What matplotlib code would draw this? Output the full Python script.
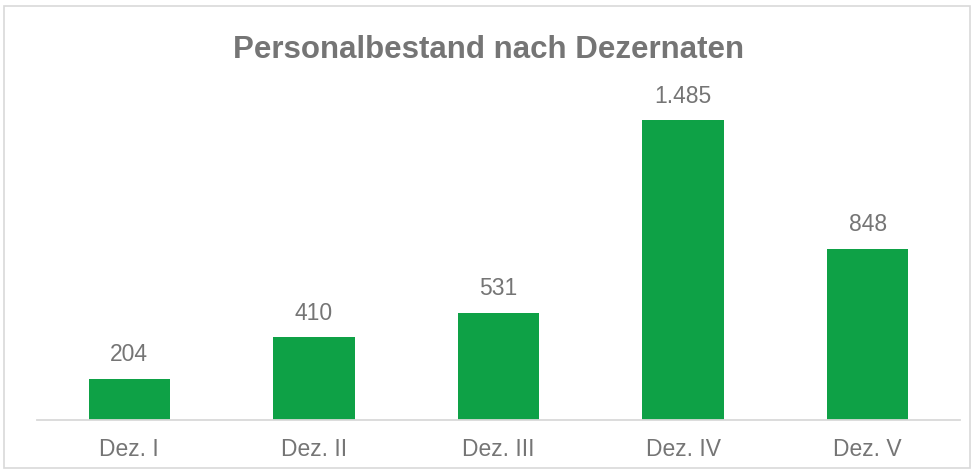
import matplotlib
matplotlib.use("Agg")
import matplotlib.pyplot as plt
from matplotlib.patches import Rectangle

# data
categories = ["Dez. I", "Dez. II", "Dez. III", "Dez. IV", "Dez. V"]
staff = [204, 410, 531, 1485, 848]

GREEN = "#0ea146"
GREY_TXT = "#757575"
GREY_LINE = "#d9d9d9"

plt.rcParams["font.family"] = ["Liberation Sans", "DejaVu Sans"]

fig = plt.figure(figsize=(9.77, 4.74), dpi=100)
ax = fig.add_axes([0.0379, 0.1139, 0.9447, 0.6815])

x = range(len(categories))
bars = ax.bar(x, staff, width=0.44, color=GREEN)
for b, v in zip(bars, staff):
    lab = f"{v:,}".replace(",", ".")
    ax.annotate(lab, (b.get_x() + b.get_width() / 2, v), xytext=(0, 9),
                textcoords="offset points", ha="center", va="bottom",
                fontsize=16.5, color=GREY_TXT)

ax.set_xlim(-0.5, len(categories) - 0.5)
ax.set_ylim(0, 1600)
ax.set_xticks(list(x))
ax.set_xticklabels(categories, fontsize=16.5, color=GREY_TXT)
ax.tick_params(axis="x", length=0, pad=13)
ax.set_yticks([])
for s in ("top", "right", "left"):
    ax.spines[s].set_visible(False)
ax.spines["bottom"].set_color(GREY_LINE)
ax.spines["bottom"].set_linewidth(1.3)

fig.text(0.5, 0.895, "Personalbestand nach Dezernaten", ha="center", va="center",
         fontsize=22.5, fontweight="bold", color=GREY_TXT)

# outer chart border
fig.patches.append(Rectangle((4 / 977, 6 / 474), 966 / 977, 462 / 474,
                             transform=fig.transFigure, fill=False,
                             edgecolor=GREY_LINE, lw=1.2))

fig.savefig("out.png", dpi=100)
